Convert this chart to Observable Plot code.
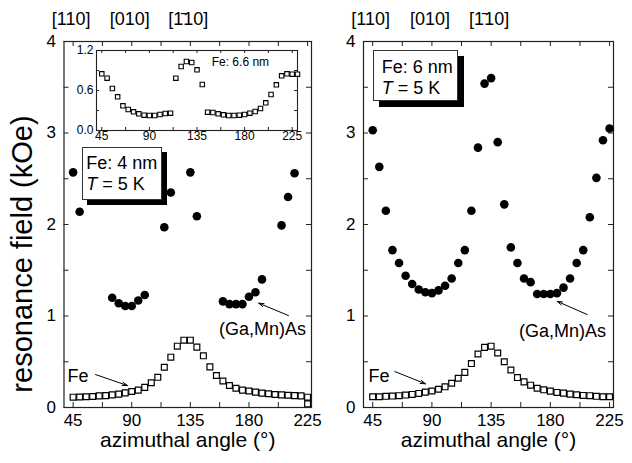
<!DOCTYPE html>
<html><head><meta charset="utf-8">
<script src="https://cdn.jsdelivr.net/npm/d3@7"></script>
<script src="https://cdn.jsdelivr.net/npm/@observablehq/plot@0.6"></script>
<style>
body{margin:0;background:#fff;}
#chart{position:relative;width:632px;height:463px;overflow:hidden;font-family:"Liberation Sans",Arial,sans-serif;}
.p{position:absolute;}
.box{position:absolute;box-sizing:border-box;background:#fff;border:1px solid #333;font-size:18px;line-height:21px;white-space:nowrap;color:#000;}
.ytitle{position:absolute;font-size:29px;white-space:nowrap;color:#000;transform:translate(-50%,-50%) rotate(-90deg);}
</style></head><body><div id="chart"></div>
<script>
// ---- data ----
const angles = [45,50,55,60,65,70,75,80,85,90,95,100,105,110,115,120,125,130,135,140,145,150,155,160,165,170,175,180,185,190,195,200,205,210,215,220,225];
const fe4 = [0.113,0.115,0.117,0.120,0.127,0.130,0.138,0.146,0.160,0.175,0.190,0.220,0.270,0.330,0.440,0.550,0.670,0.736,0.736,0.660,0.565,0.444,0.350,0.290,0.240,0.210,0.190,0.180,0.168,0.157,0.150,0.142,0.138,0.134,0.130,0.127,0.113];
const fe4ExtraAngles = [225];
const fe4Extra = [0.04];
const gm4Angles = [45,50,75,80,85,90,95,100,115,120,135,140,160,165,170,175,180,185,190,205,210,215];
const gm4 = [2.57,2.14,1.20,1.14,1.11,1.11,1.17,1.23,1.97,2.35,2.57,2.09,1.16,1.13,1.13,1.13,1.21,1.26,1.40,1.99,2.30,2.56];
const fe6 = [0.118,0.118,0.122,0.125,0.129,0.136,0.143,0.154,0.168,0.180,0.200,0.226,0.265,0.320,0.384,0.480,0.585,0.657,0.670,0.596,0.500,0.410,0.327,0.280,0.244,0.210,0.193,0.179,0.165,0.157,0.146,0.139,0.132,0.129,0.122,0.118,0.118];
const gm6 = [3.03,2.63,2.15,1.72,1.58,1.44,1.35,1.29,1.26,1.25,1.28,1.33,1.41,1.58,1.72,2.15,2.84,3.54,3.60,2.90,2.22,1.75,1.58,1.41,1.37,1.24,1.24,1.24,1.25,1.31,1.41,1.58,1.72,2.08,2.51,2.92,3.05];
const insetAngles = [45,50,55,60,65,70,75,80,85,90,95,100,105,110,115,120,125,130,135,140,145,150,155,160,165,170,175,180,185,190,195,200,205,210,215,220,225,230];
const fe66 = [0.85,0.785,0.63,0.505,0.37,0.315,0.28,0.25,0.23,0.225,0.225,0.24,0.255,0.26,0.785,0.96,1.035,1.02,0.91,0.69,0.275,0.27,0.25,0.235,0.225,0.225,0.23,0.24,0.26,0.285,0.33,0.415,0.54,0.685,0.82,0.85,0.845,0.845];

const xLabelTicks = [45,90,135,180,225];
const xAllTicks = [45,67.5,90,112.5,135,157.5,180,202.5,225];
const yLabelTicks = [0,1,2,3,4];
const yAllTicks = [0,0.5,1,1.5,2,2.5,3,3.5,4];
const insetYLabelTicks = [0,0.6,1.2];
const insetYAllTicks = [0,0.3,0.6,0.9,1.2];
const orientAngles = [45,90,135];
const orientLabels = ["[110]","[010]","[1\u030410]"];
const xTitle = "azimuthal angle (\u00b0)";
const yTitle = "resonance field (kOe)";

// annotation anchors (data coordinates)
const annLeft = {gm:{x:190.4,y:0.85}, gmArrow:{x1:210.3,y1:1.005,x2:187.5,y2:1.14}, fe:{x:48.7,y:0.34}, feArrow:{x1:62.2,y1:0.36,x2:86.7,y2:0.24}};
const annRight = {gm:{x:189.2,y:0.83}, gmArrow:{x1:208,y1:1.016,x2:185.2,y2:1.16}, fe:{x:49.8,y:0.34}, feArrow:{x1:61.8,y1:0.393,x2:85.1,y2:0.259}};

const FONT = '"Liberation Sans", Arial, sans-serif';
const zip = (xs, ys) => xs.map((x, i) => ({x, y: ys[i]}));

// inward ticks on all four sides of a frame of size w x h
function inwardTicks(xt, yt, w, h, s) {
  const o = {stroke:"#222", strokeWidth:1};
  return [
    Plot.tickX(xt, {x:d => d, insetTop:h - s, ...o}),
    Plot.tickX(xt, {x:d => d, insetBottom:h - s, ...o}),
    Plot.tickY(yt, {y:d => d, insetRight:w - s, ...o}),
    Plot.tickY(yt, {y:d => d, insetLeft:w - s, ...o})
  ];
}

function panel({width, marginLeft, marginRight, fe, gmA, gm, ann, extra}) {
  const H = 463 - 41 - 56, W = width - marginLeft - marginRight;
  const orient = orientAngles.map((x, i) => ({x, label: orientLabels[i]}));
  const marks = [
    ...inwardTicks(xAllTicks, yAllTicks, W, H, 5),
    Plot.frame({stroke:"#222", strokeWidth:1.2}),
    Plot.axisX({anchor:"bottom", ticks:xLabelTicks, tickSize:0, tickPadding:6, fontSize:17, label:null}),
    Plot.axisY({anchor:"left", ticks:yLabelTicks, tickSize:0, tickPadding:8, fontSize:17, tickFormat:d3.format("d"), label:null}),
    Plot.text(orient, {x:"x", text:"label", frameAnchor:"top", dy:-22, dx:-2, fontSize:18, lineAnchor:"middle"}),
    Plot.text([xTitle], {text:d => d, frameAnchor:"bottom", dy:33, fontSize:21, lineAnchor:"middle"}),
    Plot.arrow([ann.gmArrow], {x1:"x1", y1:"y1", x2:"x2", y2:"y2", stroke:"#000", strokeWidth:1, headLength:8, headAngle:35}),
    Plot.arrow([ann.feArrow], {x1:"x1", y1:"y1", x2:"x2", y2:"y2", stroke:"#000", strokeWidth:1, headLength:8, headAngle:35}),
    Plot.text([ann.gm], {x:"x", y:"y", text:() => "(Ga,Mn)As", fontSize:18, lineAnchor:"middle"}),
    Plot.text([ann.fe], {x:"x", y:"y", text:() => "Fe", fontSize:18, lineAnchor:"middle"}),
    Plot.dot(zip(gmA, gm), {x:"x", y:"y", r:4.3, fill:"#000", stroke:null}),
    Plot.dot(zip(angles, fe), {x:"x", y:"y", symbol:"square", r:3.3, stroke:"#000", strokeWidth:1.2, fill:"#fff"})
  ];
  if (extra) marks.push(Plot.dot(zip(extra[0], extra[1]), {x:"x", y:"y", symbol:"square", r:3.3, stroke:"#000", strokeWidth:1.2, fill:"#fff", clip:"frame"}));
  return Plot.plot({
    width, height:463, marginTop:41, marginBottom:56, marginLeft, marginRight,
    x:{domain:[38,228]}, y:{domain:[0,4]},
    style:{fontFamily:FONT, background:"transparent", color:"#000", overflow:"visible"},
    marks
  });
}

const chart = document.getElementById("chart");
function place(el, left, top) { el.classList.add("p"); el.style.left = left + "px"; el.style.top = top + "px"; chart.appendChild(el); }

place(panel({width:320, marginLeft:63.5, marginRight:9, fe:fe4, gmA:gm4Angles, gm:gm4, ann:annLeft, extra:[fe4ExtraAngles, fe4Extra]}), 0, 0);
place(panel({width:312, marginLeft:43, marginRight:19, fe:fe6, gmA:angles, gm:gm6, ann:annRight}), 320, 0);

// inset
const inset = Plot.plot({
  width:232, height:110, marginLeft:26, marginRight:5, marginTop:10, marginBottom:20,
  x:{domain:[40,230]}, y:{domain:[0,1.2]},
  style:{fontFamily:FONT, background:"transparent", color:"#000", overflow:"visible"},
  marks:[
    ...inwardTicks(xAllTicks, insetYAllTicks, 201, 80, 3),
    Plot.frame({stroke:"#222", strokeWidth:1.1}),
    Plot.axisX({anchor:"bottom", ticks:xLabelTicks, tickSize:0, tickPadding:1, fontSize:12, label:null}),
    Plot.axisY({anchor:"left", ticks:insetYLabelTicks, tickSize:0, tickPadding:3, fontSize:12, tickFormat:d3.format(".1f"), label:null}),
    Plot.text([{x:176, y:1.02}], {x:"x", y:"y", text:() => "Fe: 6.6 nm", fontSize:12, lineAnchor:"middle"}),
    Plot.dot(zip(insetAngles, fe66), {x:"x", y:"y", symbol:"square", r:2.5, stroke:"#000", strokeWidth:1.1, fill:"#fff"})
  ]
});
place(inset, 70, 40);

// y-axis title
const yt = document.createElement("div");
yt.className = "ytitle"; yt.textContent = yTitle;
yt.style.left = "22px"; yt.style.top = "254px";
chart.appendChild(yt);

// legend boxes
function box(html, left, top, w, h, pl, pt, shadow) {
  const d = document.createElement("div");
  d.className = "box";
  d.style.left = left + "px"; d.style.top = top + "px";
  d.style.width = w + "px"; d.style.height = h + "px";
  d.style.paddingLeft = pl + "px"; d.style.paddingTop = pt + "px";
  d.style.boxShadow = `${shadow}px ${shadow}px 0 #000`;
  d.innerHTML = html;
  chart.appendChild(d);
}
box("Fe: 4 nm<br><i>T</i> = 5 K", 81.7, 146.7, 80, 53, 3.5, 5, 5);
box("Fe: 6 nm<br><i>T</i> = 5 K", 373.3, 50, 85, 51, 7.5, 5.5, 6);
</script></body></html>
